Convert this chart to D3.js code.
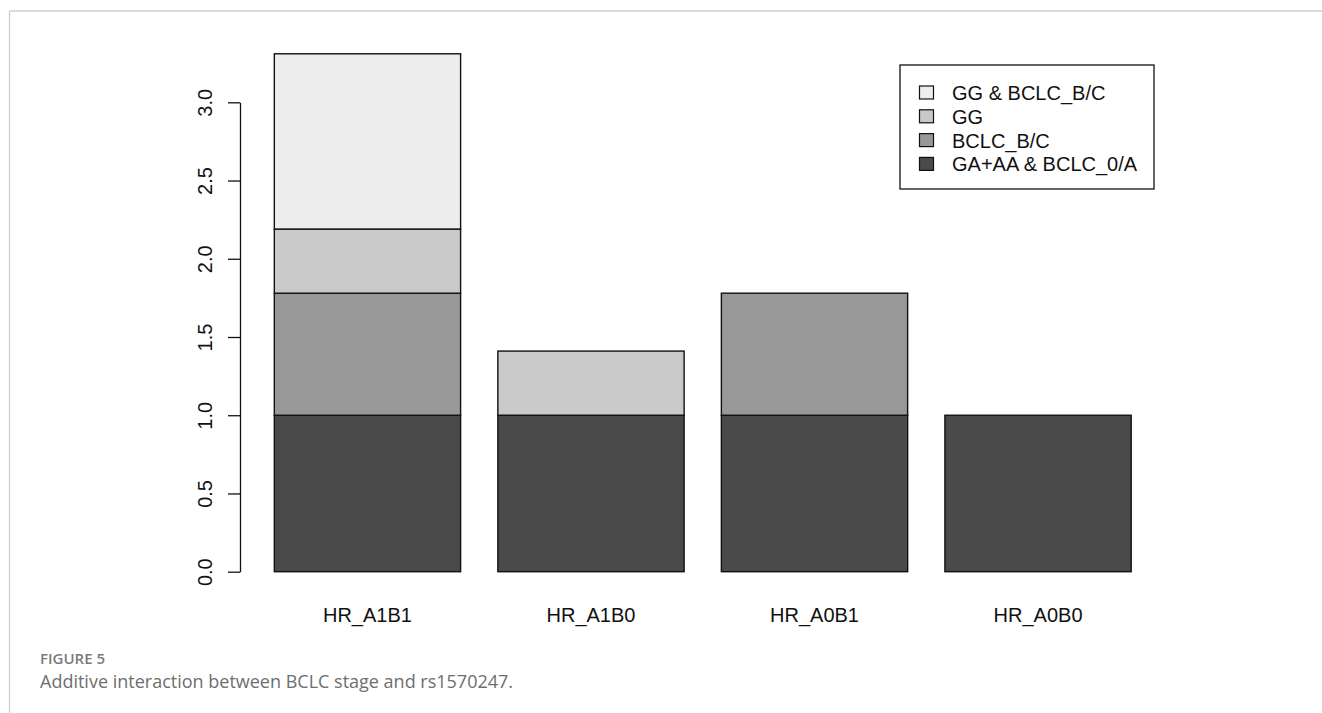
<!DOCTYPE html>
<html>
<head>
<meta charset="utf-8">
<script src="https://cdn.jsdelivr.net/npm/d3@7"></script>
<style>
html,body{margin:0;padding:0;background:#fff;}
svg{display:block;}
</style>
</head>
<body>
<svg id="chart" width="1322" height="713"></svg>
<script>
// ---- data ----
const categories = ["HR_A1B1", "HR_A1B0", "HR_A0B1", "HR_A0B0"];
const seriesNames = ["GA+AA & BCLC_0/A", "BCLC_B/C", "GG", "GG & BCLC_B/C"];
const baseValues = [1.00, 1.00, 1.00, 1.00];
const bclcValues = [0.78, 0.00, 0.78, 0.00];
const ggValues = [0.41, 0.41, 0.00, 0.00];
const interactionValues = [1.12, 0.00, 0.00, 0.00];
const yTicks = [0, 0.5, 1.0, 1.5, 2.0, 2.5, 3.0];
const figureLabel = "FIGURE 5";
const captionText = "Additive interaction between BCLC stage and rs1570247.";

const seriesColors = ["#4a4a4a", "#989898", "#c9c9c9", "#ededed"];

const rows = categories.map((c, i) => ({
  cat: c,
  [seriesNames[0]]: baseValues[i],
  [seriesNames[1]]: bclcValues[i],
  [seriesNames[2]]: ggValues[i],
  [seriesNames[3]]: interactionValues[i]
}));

const svg = d3.select("#chart");

// page frame
svg.append("line").attr("x1", 9.5).attr("x2", 1322).attr("y1", 11).attr("y2", 11)
  .attr("stroke", "#cfcfcf").attr("stroke-width", 1.3);
svg.append("line").attr("x1", 9.5).attr("x2", 9.5).attr("y1", 11).attr("y2", 713)
  .attr("stroke", "#cfcfcf").attr("stroke-width", 1.3);

// scales
const x = d3.scaleBand().domain(categories)
  .range([255.7, 1149.8]).paddingInner(1 / 6).paddingOuter(1 / 12);
const y = d3.scaleLinear().domain([0, 3]).range([571.7, 102.3]);

const stack = d3.stack().keys(seriesNames);
const stacked = stack(rows);

const g = svg.append("g");
g.selectAll("g.series").data(stacked).join("g")
  .attr("class", "series")
  .attr("fill", (d, i) => seriesColors[i])
  .selectAll("rect")
  .data(d => d.filter(s => s[1] - s[0] > 0))
  .join("rect")
  .attr("x", d => x(d.data.cat))
  .attr("width", x.bandwidth())
  .attr("y", d => y(d[1]))
  .attr("height", d => y(d[0]) - y(d[1]))
  .attr("stroke", "#111")
  .attr("stroke-width", 1.4);

// y axis
const yAxis = d3.axisLeft(y).tickValues(yTicks).tickFormat(d3.format(".1f"))
  .tickSize(12).tickSizeOuter(0);
const ax = svg.append("g").attr("transform", "translate(240,0)").call(yAxis);
ax.select(".domain").attr("stroke", "#111").attr("stroke-width", 1.3);
ax.selectAll(".tick line").attr("stroke", "#111").attr("stroke-width", 1.3);
ax.selectAll(".tick text")
  .attr("transform", "rotate(-90)")
  .attr("x", 0).attr("y", -28).attr("dy", 0)
  .attr("text-anchor", "middle")
  .attr("fill", "#111")
  .style("font-family", "Liberation Sans, Arial, sans-serif")
  .style("font-size", "20px");

// x labels
svg.append("g").selectAll("text").data(categories).join("text")
  .attr("x", d => x(d) + x.bandwidth() / 2)
  .attr("y", 621.5)
  .attr("text-anchor", "middle")
  .attr("fill", "#111")
  .style("font-family", "Liberation Sans, Arial, sans-serif")
  .style("font-size", "20px")
  .text(d => d);

// legend
const leg = svg.append("g");
leg.append("rect").attr("x", 900).attr("y", 65).attr("width", 254).attr("height", 124)
  .attr("fill", "#fff").attr("stroke", "#111").attr("stroke-width", 1.3);
const legOrder = seriesNames.map((n, i) => ({ name: n, color: seriesColors[i] })).reverse();
const li = leg.selectAll("g.item").data(legOrder).join("g")
  .attr("class", "item")
  .attr("transform", (d, i) => `translate(0,${92.5 + i * 23.8})`);
li.append("rect").attr("x", 919.5).attr("y", -6.5).attr("width", 14).attr("height", 13)
  .attr("fill", d => d.color).attr("stroke", "#111").attr("stroke-width", 1.2);
li.append("text").attr("x", 952).attr("y", 7.5)
  .attr("fill", "#111")
  .style("font-family", "Liberation Sans, Arial, sans-serif")
  .style("font-size", "20px")
  .text(d => d.name);

// caption
svg.append("text").attr("x", 40).attr("y", 664)
  .attr("fill", "#7a7a7a")
  .style("font-family", "Open Sans, sans-serif")
  .style("font-weight", 600)
  .style("font-size", "15px")
  .text(figureLabel);
svg.append("text").attr("x", 40).attr("y", 688)
  .attr("fill", "#6e6e6e")
  .style("font-family", "Open Sans, sans-serif")
  .style("font-size", "18px")
  .text(captionText);
</script>
</body>
</html>
